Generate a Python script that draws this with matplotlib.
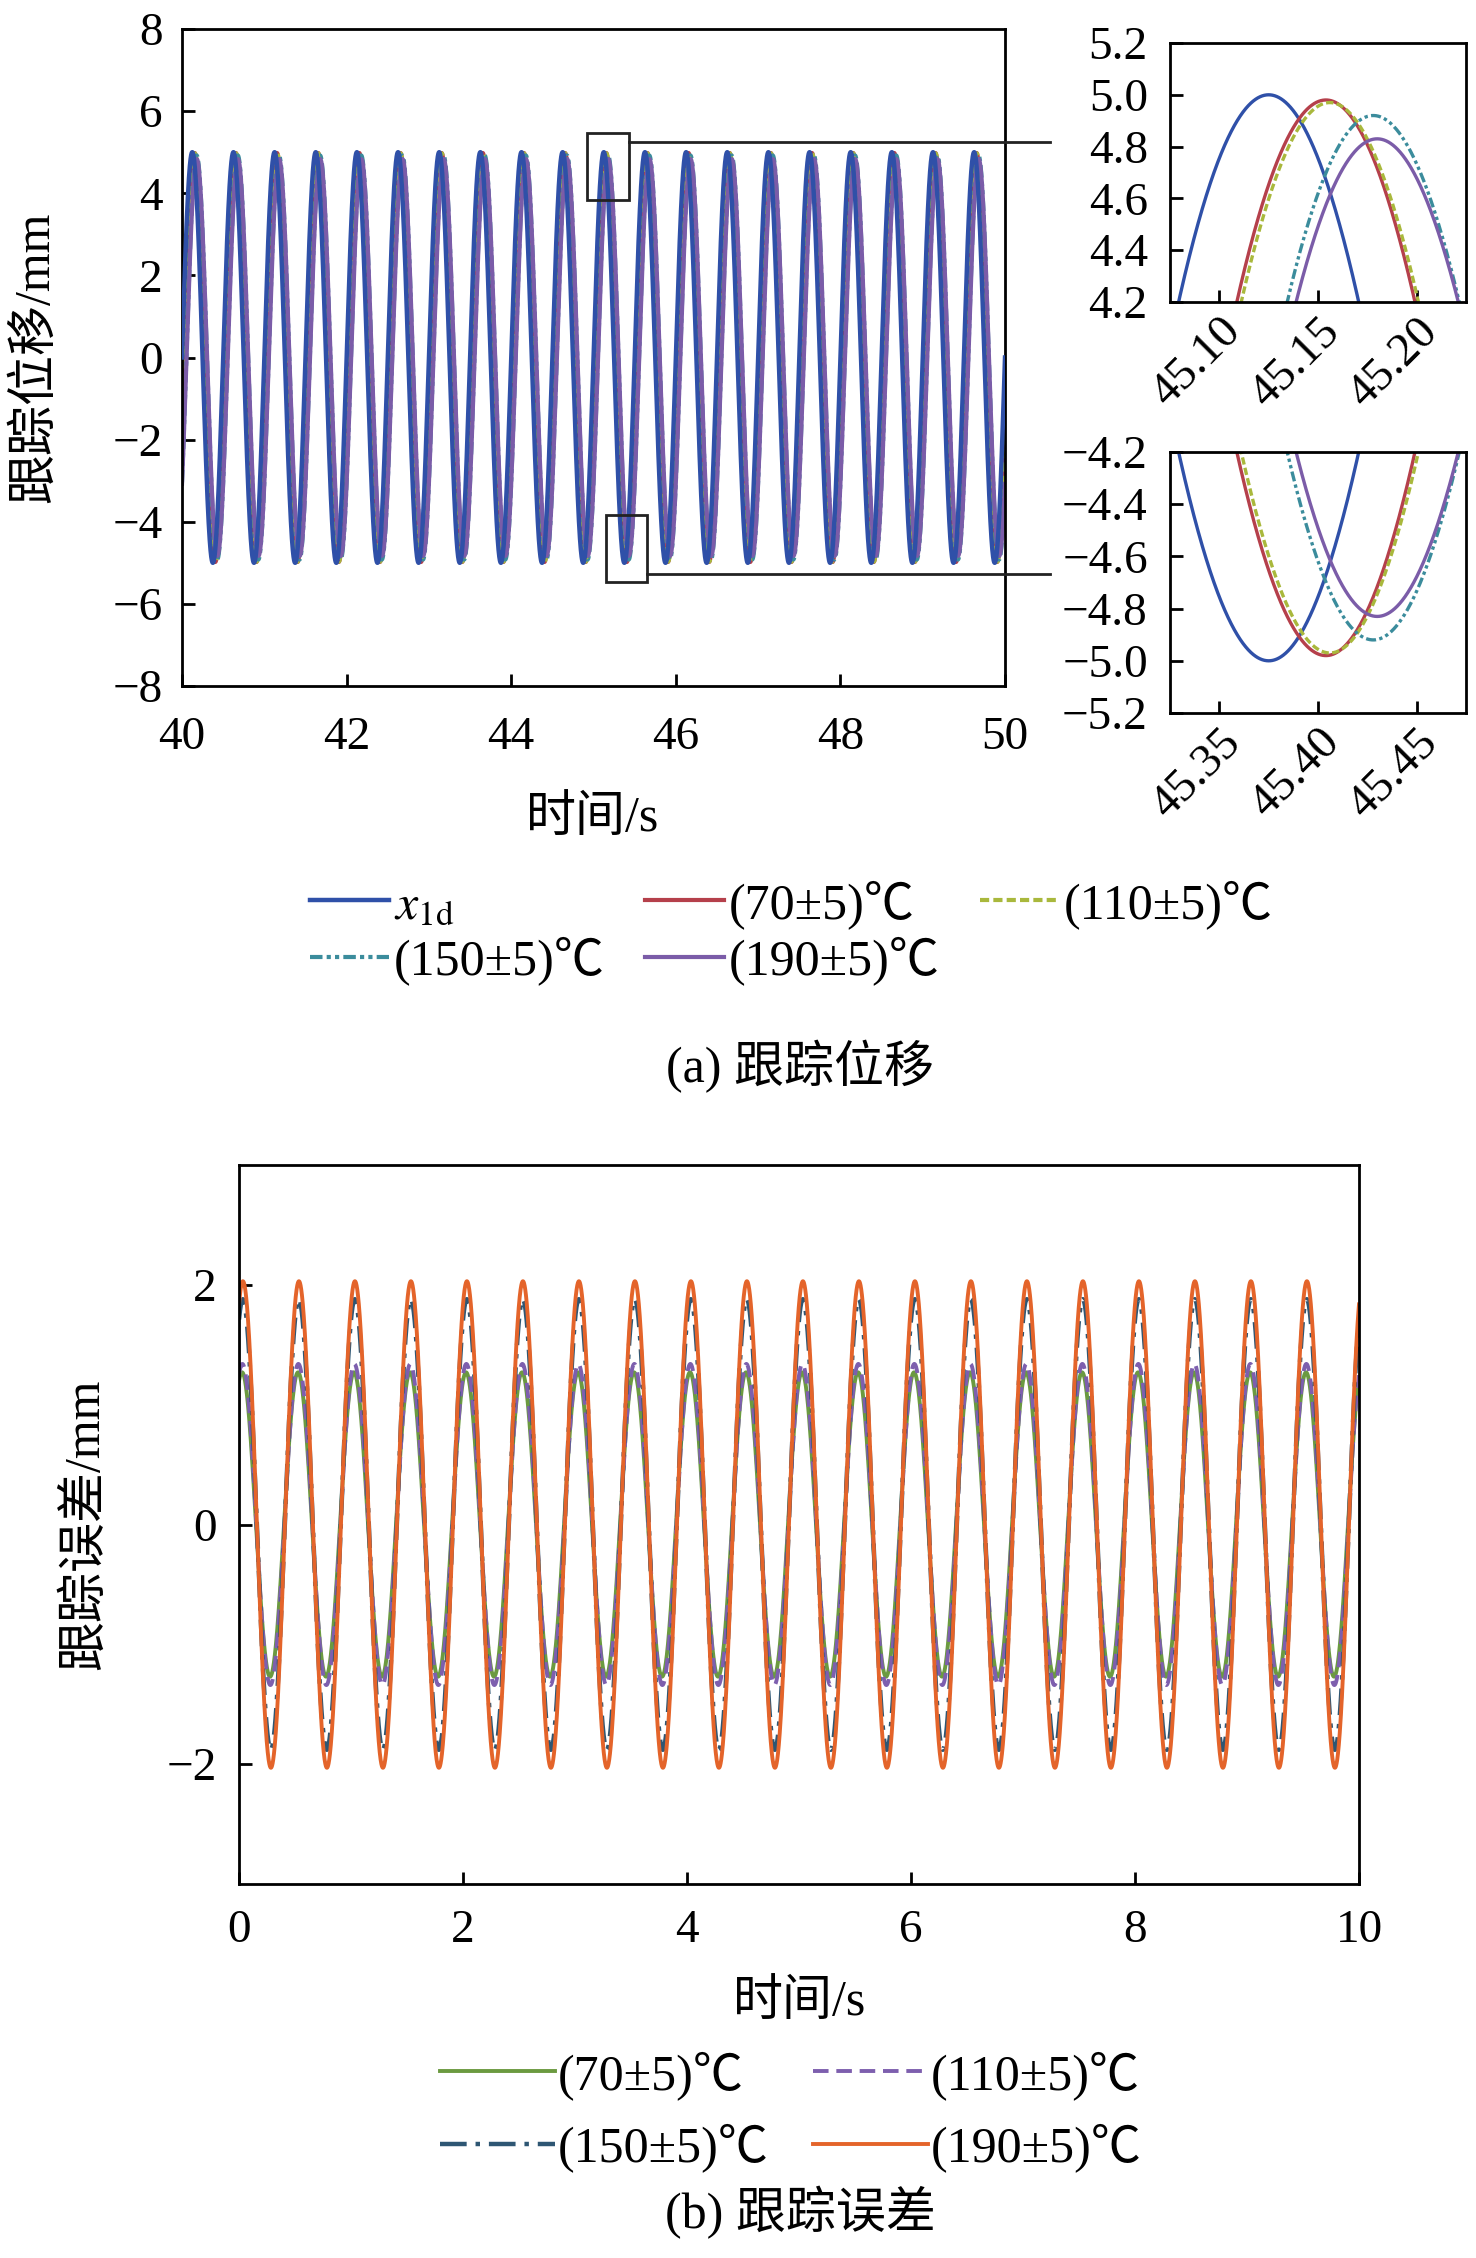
import numpy as np
import matplotlib
matplotlib.use('Agg')
import matplotlib.pyplot as plt
from matplotlib.patches import Rectangle
from matplotlib.ticker import FuncFormatter

plt.rcParams['font.family'] = ['Liberation Serif', 'Noto Sans CJK SC']
plt.rcParams['mathtext.fontset'] = 'stix'
plt.rcParams['axes.linewidth'] = 2.0

# reference displacement x1d = A sin(2*pi*f*t)
ref_amp = 5.0
ref_freq = 2.0
ref_color = '#2f50a8'

temp_labels = ['(70±5)℃', '(110±5)℃', '(150±5)℃', '(190±5)℃']

track_amp = [4.98, 4.97, 4.92, 4.83]
track_lag = [0.029, 0.031, 0.053, 0.055]
track_colors = ['#b5404b', '#a9b83c', '#3b8c9c', '#7b5ca8']
track_styles = ['-', (0, (2.2, 1.0)), (0, (3, 1, 1, 1, 1, 1)), '-']

# tracking error (amplitude and time of first peak)
err_amp = [1.27, 1.34, 1.88, 2.03]
err_peak = [0.027, 0.030, 0.034, 0.035]
err_colors = ['#6b9a40', '#7d5fae', '#2e5673', '#e4642a']
err_styles = ['-', (0, (4, 2)), (0, (6, 2, 1, 2)), '-']
err_widths = [2.8, 2.8, 3.2, 2.8]

W, H = 1476, 2258


def fig_rect(left, top, right, bottom):
    return [left / W, 1 - bottom / H, (right - left) / W, (bottom - top) / H]


def style_axis(ax, xpad=20, ypad=14):
    ax.tick_params(direction='in', length=9, width=2, labelsize=34)
    ax.tick_params(axis='x', pad=xpad)
    ax.tick_params(axis='y', pad=ypad)


def fmt(digits):
    return FuncFormatter(lambda v, pos: f'{v:.{digits}f}'.replace('-', '\u2212'))


def draw_tracks(ax, t, lw):
    w = 2 * np.pi * ref_freq
    for a, lag, c, ls in zip(track_amp, track_lag, track_colors, track_styles):
        ax.plot(t, a * np.sin(w * (t - lag)), color=c, ls=ls, lw=lw)
    ax.plot(t, ref_amp * np.sin(w * t), color=ref_color, lw=lw, zorder=1.9)


fig = plt.figure(figsize=(W / 100, H / 100), dpi=100)

# ---------------- (a) tracking displacement ----------------
ax1 = fig.add_axes(fig_rect(182, 29, 1005, 686))
t = np.linspace(40, 50, 20001)
w = 2 * np.pi * ref_freq
lines = []
for a, lag, c, ls in zip(track_amp, track_lag, track_colors, track_styles):
    ln, = ax1.plot(t, a * np.sin(w * (t - lag)), color=c, ls=ls, lw=3.0)
    lines.append(ln)
ref_line, = ax1.plot(t, ref_amp * np.sin(w * t), color=ref_color, lw=3.2, zorder=3)
ax1.set_xlim(40, 50)
ax1.set_ylim(-8, 8)
ax1.set_xticks(np.arange(40, 51, 2))
ax1.set_yticks(np.arange(-8, 9, 2))
style_axis(ax1, xpad=22, ypad=14)

ax1.add_patch(Rectangle((44.92, 3.83), 0.51, 1.63, fill=False, lw=2, ec='#222222', zorder=5))
ax1.add_patch(Rectangle((45.15, -5.47), 0.50, 1.63, fill=False, lw=2, ec='#222222', zorder=5))
ax1.plot([45.43, 50.55], [5.25, 5.25], color='#222222', lw=2, clip_on=False, zorder=5)
ax1.plot([45.65, 50.55], [-5.27, -5.27], color='#222222', lw=2, clip_on=False, zorder=5)

# zoom windows
ins1 = fig.add_axes(fig_rect(1170, 43, 1466, 302))
ti = np.linspace(45.05, 45.25, 2001)
draw_tracks(ins1, ti, 2.4)
ins1.set_xlim(45.075, 45.225)
ins1.set_ylim(4.2, 5.2)
ins1.set_xticks([45.10, 45.15, 45.20])
ins1.set_yticks(np.arange(4.2, 5.21, 0.2))

ins2 = fig.add_axes(fig_rect(1170, 452, 1466, 713))
ti = np.linspace(45.30, 45.50, 2001)
draw_tracks(ins2, ti, 2.4)
ins2.set_xlim(45.325, 45.475)
ins2.set_ylim(-5.2, -4.2)
ins2.set_xticks([45.35, 45.40, 45.45])
ins2.set_yticks(np.arange(-5.2, -4.19, 0.2))

for ax in (ins1, ins2):
    style_axis(ax, xpad=6, ypad=16)
    ax.xaxis.set_major_formatter(fmt(2))
    ax.yaxis.set_major_formatter(fmt(1))
    for lab in ax.get_xticklabels():
        lab.set_rotation(45)
        lab.set_ha('right')
        lab.set_rotation_mode('anchor')

fig.text(36 / W, 1 - 357 / H, '跟踪位移/mm', rotation=90, ha='center', va='center', fontsize=36)
fig.text(593 / W, 1 - 819 / H, '时间/s', ha='center', va='center', fontsize=36)

handles = [ref_line, lines[2], lines[0], lines[3], lines[1]]
labels = [r'$x_{\mathrm{1d}}$', temp_labels[2], temp_labels[0], temp_labels[3], temp_labels[1]]
fig.legend(handles, labels, loc='upper left', bbox_to_anchor=(310 / W, 1 - 880 / H),
           ncol=3, frameon=False, fontsize=36, handlelength=1.58, handletextpad=0.1,
           columnspacing=0.8, labelspacing=0.15, borderpad=0, borderaxespad=0)

fig.text(800 / W, 1 - 1067 / H, '(a) 跟踪位移', ha='center', va='center', fontsize=36)

# ---------------- (b) tracking error ----------------
ax2 = fig.add_axes(fig_rect(239, 1165, 1359, 1884))
t2 = np.linspace(0, 10, 20001)
err_lines = []
for a, tp, c, ls, lw in zip(err_amp, err_peak, err_colors, err_styles, err_widths):
    ln, = ax2.plot(t2, a * np.cos(w * (t2 - tp)), color=c, ls=ls, lw=lw)
    err_lines.append(ln)
ax2.set_xlim(0, 10)
ax2.set_ylim(-3, 3)
ax2.set_xticks(np.arange(0, 11, 2))
ax2.set_yticks([-2, 0, 2])
style_axis(ax2, xpad=18, ypad=16)

fig.text(86 / W, 1 - 1524 / H, '跟踪误差/mm', rotation=90, ha='center', va='center', fontsize=36)
fig.text(800 / W, 1 - 2003 / H, '时间/s', ha='center', va='center', fontsize=36)

fig.legend([err_lines[0], err_lines[2], err_lines[1], err_lines[3]],
           [temp_labels[0], temp_labels[2], temp_labels[1], temp_labels[3]],
           loc='upper left', bbox_to_anchor=(440 / W, 1 - 2051 / H),
           ncol=2, frameon=False, fontsize=36, handlelength=2.3, handletextpad=0.05,
           columnspacing=0.9, labelspacing=0.47, borderpad=0, borderaxespad=0)

fig.text(800 / W, 1 - 2213 / H, '(b) 跟踪误差', ha='center', va='center', fontsize=36)

fig.savefig('out.png', dpi=100)
